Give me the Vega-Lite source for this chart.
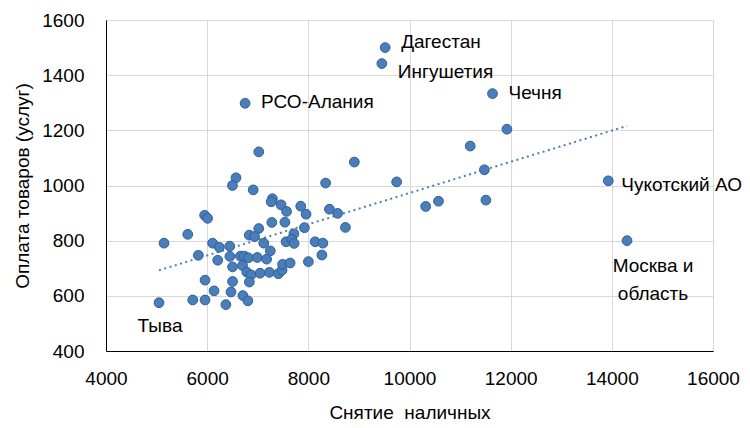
{
  "$schema": "https://vega.github.io/schema/vega-lite/v6.json",
  "width": 607,
  "height": 331,
  "autosize": {"type": "none"},
  "padding": {"left": 106, "top": 20, "right": 37, "bottom": 77},
  "background": "white",
  "config": {
    "view": {"stroke": null},
    "font": "Liberation Sans",
    "axis": {
      "labelFont": "Liberation Sans",
      "titleFont": "Liberation Sans",
      "labelFontSize": 19,
      "titleFontSize": 19,
      "labelColor": "#000000",
      "titleColor": "#000000",
      "titleFontWeight": "normal",
      "gridColor": "#d9d9d9",
      "gridWidth": 1,
      "domainColor": "#000000",
      "domainWidth": 1,
      "ticks": false
    }
  },
  "data": {
    "values": [
      {"cash": 7020, "pay": 1122, "region": ""},
      {"cash": 6570, "pay": 1028, "region": ""},
      {"cash": 6500, "pay": 1000, "region": ""},
      {"cash": 6910, "pay": 984, "region": ""},
      {"cash": 7290, "pay": 952, "region": ""},
      {"cash": 7265, "pay": 941, "region": ""},
      {"cash": 7460, "pay": 930, "region": ""},
      {"cash": 7570, "pay": 906, "region": ""},
      {"cash": 7850, "pay": 925, "region": ""},
      {"cash": 7955, "pay": 896, "region": ""},
      {"cash": 5950, "pay": 892, "region": ""},
      {"cash": 6008, "pay": 881, "region": ""},
      {"cash": 7278, "pay": 866, "region": ""},
      {"cash": 7537, "pay": 867, "region": ""},
      {"cash": 7922, "pay": 847, "region": ""},
      {"cash": 7020, "pay": 844, "region": ""},
      {"cash": 6832, "pay": 820, "region": ""},
      {"cash": 6937, "pay": 815, "region": ""},
      {"cash": 7715, "pay": 825, "region": ""},
      {"cash": 5616, "pay": 823, "region": ""},
      {"cash": 5147, "pay": 791, "region": ""},
      {"cash": 6107, "pay": 791, "region": ""},
      {"cash": 6241, "pay": 776, "region": ""},
      {"cash": 6447, "pay": 780, "region": ""},
      {"cash": 7119, "pay": 791, "region": ""},
      {"cash": 7560, "pay": 796, "region": ""},
      {"cash": 7673, "pay": 805, "region": ""},
      {"cash": 7719, "pay": 790, "region": ""},
      {"cash": 8134, "pay": 796, "region": ""},
      {"cash": 8288, "pay": 791, "region": ""},
      {"cash": 7248, "pay": 763, "region": ""},
      {"cash": 5826, "pay": 747, "region": ""},
      {"cash": 6449, "pay": 743, "region": ""},
      {"cash": 6657, "pay": 744, "region": ""},
      {"cash": 6734, "pay": 744, "region": ""},
      {"cash": 6815, "pay": 738, "region": ""},
      {"cash": 6991, "pay": 739, "region": ""},
      {"cash": 7175, "pay": 733, "region": ""},
      {"cash": 6209, "pay": 729, "region": ""},
      {"cash": 8268, "pay": 748, "region": ""},
      {"cash": 6502, "pay": 705, "region": ""},
      {"cash": 6700, "pay": 710, "region": ""},
      {"cash": 6783, "pay": 686, "region": ""},
      {"cash": 6868, "pay": 676, "region": ""},
      {"cash": 7046, "pay": 682, "region": ""},
      {"cash": 7230, "pay": 685, "region": ""},
      {"cash": 7408, "pay": 680, "region": ""},
      {"cash": 7481, "pay": 693, "region": ""},
      {"cash": 7491, "pay": 714, "region": ""},
      {"cash": 7640, "pay": 719, "region": ""},
      {"cash": 8001, "pay": 724, "region": ""},
      {"cash": 6834, "pay": 650, "region": ""},
      {"cash": 5958, "pay": 657, "region": ""},
      {"cash": 6502, "pay": 652, "region": ""},
      {"cash": 6136, "pay": 618, "region": ""},
      {"cash": 6471, "pay": 614, "region": ""},
      {"cash": 6706, "pay": 601, "region": ""},
      {"cash": 6805, "pay": 582, "region": ""},
      {"cash": 5048, "pay": 575, "region": "Тыва"},
      {"cash": 5715, "pay": 585, "region": ""},
      {"cash": 5958, "pay": 585, "region": ""},
      {"cash": 6370, "pay": 568, "region": ""},
      {"cash": 8909, "pay": 1085, "region": ""},
      {"cash": 8342, "pay": 1009, "region": ""},
      {"cash": 9746, "pay": 1013, "region": ""},
      {"cash": 8417, "pay": 914, "region": ""},
      {"cash": 8579, "pay": 899, "region": ""},
      {"cash": 8733, "pay": 848, "region": ""},
      {"cash": 10320, "pay": 924, "region": ""},
      {"cash": 10573, "pay": 943, "region": ""},
      {"cash": 11200, "pay": 1143, "region": ""},
      {"cash": 11481, "pay": 1057, "region": ""},
      {"cash": 11510, "pay": 947, "region": ""},
      {"cash": 11926, "pay": 1204, "region": ""},
      {"cash": 11641, "pay": 1333, "region": "Чечня"},
      {"cash": 9519, "pay": 1500, "region": "Дагестан"},
      {"cash": 9453, "pay": 1442, "region": "Ингушетия"},
      {"cash": 6750, "pay": 1298, "region": "РСО-Алания"},
      {"cash": 13930, "pay": 1017, "region": "Чукотский АО"},
      {"cash": 14300, "pay": 800, "region": "Москва и\nобласть"}
    ]
  },
  "layer": [
    {
      "transform": [{"regression": "pay", "on": "cash"}],
      "mark": {"type": "line", "color": "#4A7EBB", "strokeWidth": 2, "strokeDash": [2, 3.5]},
      "encoding": {
        "x": {
          "field": "cash", "type": "quantitative",
          "scale": {"domain": [4000, 16000], "nice": false, "zero": false},
          "axis": {"values": [4000, 6000, 8000, 10000, 12000, 14000, 16000], "format": "d", "title": "Снятие\u00a0 наличных", "labelPadding": 18, "titlePadding": 15, "labelFlush": false, "grid": true}
        },
        "y": {
          "field": "pay", "type": "quantitative",
          "scale": {"domain": [400, 1600], "nice": false, "zero": false},
          "axis": {"values": [400, 600, 800, 1000, 1200, 1400, 1600], "format": "d", "title": "Оплата товаров (услуг)", "labelPadding": 22, "titlePadding": 9, "labelFlush": false, "grid": true}
        }
      }
    },
    {
      "mark": {"type": "point", "filled": true, "size": 95, "fill": "#4A7EBB", "stroke": "#2F5F97", "strokeWidth": 1, "opacity": 1},
      "encoding": {
        "x": {"field": "cash", "type": "quantitative"},
        "y": {"field": "pay", "type": "quantitative"}
      }
    },
    {
      "transform": [{"filter": "datum.region == 'Дагестан'"}],
      "mark": {"type": "text", "align": "left", "baseline": "middle", "dx": 16, "dy": -6, "fontSize": 19, "color": "#000000"},
      "encoding": {"x": {"field": "cash", "type": "quantitative"}, "y": {"field": "pay", "type": "quantitative"}, "text": {"field": "region"}}
    },
    {
      "transform": [{"filter": "datum.region == 'Ингушетия'"}],
      "mark": {"type": "text", "align": "left", "baseline": "middle", "dx": 16, "dy": 8, "fontSize": 19, "color": "#000000"},
      "encoding": {"x": {"field": "cash", "type": "quantitative"}, "y": {"field": "pay", "type": "quantitative"}, "text": {"field": "region"}}
    },
    {
      "transform": [{"filter": "datum.region == 'Чечня' || datum.region == 'РСО-Алания'"}],
      "mark": {"type": "text", "align": "left", "baseline": "middle", "dx": 16, "dy": -1, "fontSize": 19, "color": "#000000"},
      "encoding": {"x": {"field": "cash", "type": "quantitative"}, "y": {"field": "pay", "type": "quantitative"}, "text": {"field": "region"}}
    },
    {
      "transform": [{"filter": "datum.region == 'Чукотский АО'"}],
      "mark": {"type": "text", "align": "left", "baseline": "middle", "dx": 13, "dy": 4, "fontSize": 19, "color": "#000000"},
      "encoding": {"x": {"field": "cash", "type": "quantitative"}, "y": {"field": "pay", "type": "quantitative"}, "text": {"field": "region"}}
    },
    {
      "transform": [{"filter": "datum.region == 'Москва и\\nобласть'"}],
      "mark": {"type": "text", "align": "center", "baseline": "middle", "dx": 26, "dy": 25, "fontSize": 19, "lineBreak": "\n", "lineHeight": 28, "color": "#000000"},
      "encoding": {"x": {"field": "cash", "type": "quantitative"}, "y": {"field": "pay", "type": "quantitative"}, "text": {"field": "region"}}
    },
    {
      "transform": [{"filter": "datum.region == 'Тыва'"}],
      "mark": {"type": "text", "align": "center", "baseline": "middle", "dx": 1, "dy": 23, "fontSize": 19, "color": "#000000"},
      "encoding": {"x": {"field": "cash", "type": "quantitative"}, "y": {"field": "pay", "type": "quantitative"}, "text": {"field": "region"}}
    }
  ]
}
